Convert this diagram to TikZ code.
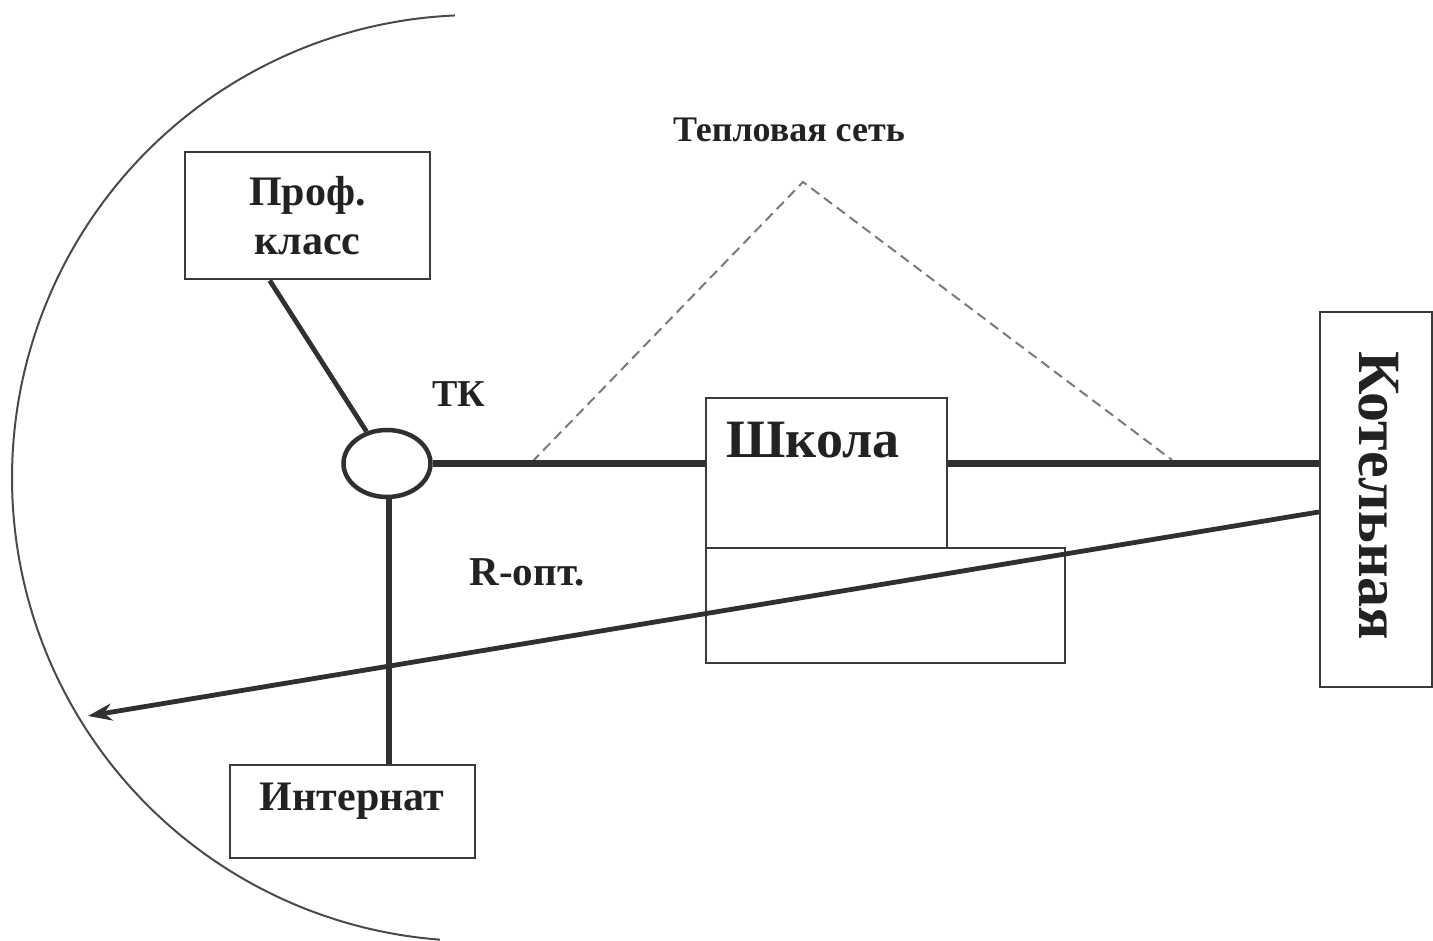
\documentclass[tikz,border=0pt]{standalone}
\usepackage{fontspec}
\setmainfont{Liberation Serif}
\usetikzlibrary{arrows.meta,calc,shapes.geometric}
\definecolor{linec}{HTML}{303030}
\definecolor{boxc}{HTML}{3A3A3A}
\definecolor{txtc}{HTML}{222222}
\definecolor{dashc}{HTML}{7A7A7A}
\definecolor{arcc}{HTML}{4A4A4A}
\newcommand{\fsz}[1]{\bfseries\fontsize{#1}{#1}\selectfont}
\begin{document}
\begin{tikzpicture}[x=1pt,y=-1pt,
  box/.style={draw=boxc, line width=2pt, inner sep=0pt},
  pipe/.style={draw=linec, line width=6.5pt},
  thinpipe/.style={draw=linec, line width=4.8pt},
  lbl/.style={text=txtc, inner sep=0pt},
]
\useasboundingbox (0,0) rectangle (1433,941);

% boundary of the site
\draw[line width=2pt, draw=arcc]
  plot[domain=267.5:94.35, samples=150, smooth] ({475+463*cos(\x)},{478+463*sin(\x)});

% buildings
\node[box, minimum width=245pt, minimum height=127pt, align=center,
      font=\bfseries\fontsize{42}{49}\selectfont, text=txtc] (prof) at (307.5,216) {Проф.\\класс};
\node[draw=linec, line width=4.5pt, ellipse, minimum width=87pt, minimum height=67pt,
      inner sep=0pt] (tk) at (387,463.5) {};
\node[lbl, font=\fsz{38}] (tklbl) at (459,394) {ТК};

\node[box, minimum width=245pt, minimum height=93pt] (internat) at (352.5,811.5) {};
\node[lbl, font=\fsz{42}] (internattext) at (352,801) {Интернат};

\node[box, minimum width=241pt, minimum height=150pt] (shkola) at (826.5,473) {};
\node[lbl, font=\fsz{54}] (shkolatext) at (813,440) {Школа};

\node[box, minimum width=359pt, minimum height=115pt] (annex) at (885.5,605.5) {};

\node[box, minimum width=112pt, minimum height=375pt] (kot) at (1376,499.5) {};
\node[lbl, rotate=-90, font=\fsz{60}] (kottext) at (1379,496) {Котельная};

\node[lbl, font=\fsz{41}] (ropt) at (527,572) {R-опт.};
\node[lbl, font=\fsz{36}] (heat) at (789,130) {Тепловая сеть};

% heating network outline
\coordinate (dl) at (532,462);
\coordinate (da) at (803,182);
\coordinate (dr) at (1172,460);
\draw[dash pattern=on 10pt off 6pt, line width=2pt, draw=dashc] (dl) -- (da) -- (dr);

% pipes
\draw[thinpipe] ($(prof.south west)!0.347!(prof.south east)$) -- (tk);
\draw[pipe] ([xshift=2pt]tk.south) -- ([xshift=2pt]tk.south |- internat.north);
\draw[pipe] (tk.east) -- (tk.east -| shkola.west);
\draw[pipe] (tk.east -| shkola.east) -- (tk.east -| kot.west);

% radius of optical line
\coordinate (kin) at ($(kot.north west)!0.533!(kot.south west)$);
\coordinate (tip) at (88,716);
\draw[thinpipe, -{Stealth[length=24pt,width=17pt]}] (kin) -- (tip);
\end{tikzpicture}
\end{document}
